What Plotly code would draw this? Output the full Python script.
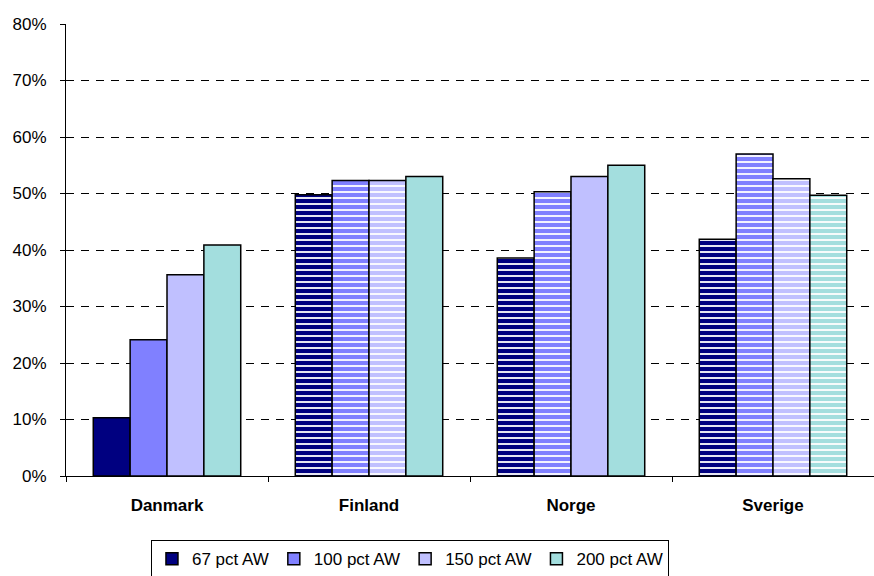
import plotly.graph_objects as go

countries = ["Danmark", "Finland", "Norge", "Sverige"]
series_names = ["67 pct AW", "100 pct AW", "150 pct AW", "200 pct AW"]
v67 = [10.3, 49.8, 38.6, 41.9]
v100 = [24.1, 52.3, 50.3, 57.0]
v150 = [35.6, 52.3, 53.0, 52.6]
v200 = [40.9, 53.0, 55.0, 49.7]
colors = ["#000080", "#8080FF", "#C0C0FF", "#A3DEDE"]
patterns = [["", "-", "-", "-"], ["", "-", "-", "-"], ["", "-", "", "-"], ["", "", "", "-"]]
y_ticks = [0, 10, 20, 30, 40, 50, 60, 70, 80]
y_labels = [f"{t}%" for t in y_ticks]

FONT = "Arial, Liberation Sans, sans-serif"

fig = go.Figure()
for name, vals, col, pat in zip(series_names, [v67, v100, v150, v200], colors, patterns):
    fig.add_trace(go.Bar(
        x=countries, y=vals, name=name,
        marker=dict(color=col, line=dict(color="black", width=1.5),
                    pattern=dict(shape=pat, fgcolor=col, bgcolor="white",
                                 fgopacity=1, size=6, solidity=0.7)),
    ))

fig.update_layout(
    width=874, height=576,
    margin=dict(l=66, r=0, t=24, b=100, autoexpand=False),
    paper_bgcolor="white", plot_bgcolor="white",
    barmode="group", bargap=0.27, bargroupgap=0,
    font=dict(family=FONT, size=17, color="black"),
    legend=dict(orientation="h", x=0.4257, xanchor="center", y=-0.142, yanchor="top",
                bordercolor="black", borderwidth=1, font=dict(size=17, family=FONT),
                itemwidth=30, tracegroupgap=0),
    xaxis=dict(showline=True, linecolor="black", linewidth=1, ticks="outside",
               tickson="boundaries", ticklen=5, tickcolor="black", automargin=False,
               tickfont=dict(size=17, family=FONT, weight="bold"),
               ticklabelstandoff=14, showgrid=False),
    yaxis=dict(range=[0, 80], tickvals=y_ticks, ticktext=y_labels,
               showline=True, linecolor="black", linewidth=1, automargin=False,
               ticks="outside", ticklen=5, tickcolor="black",
               showgrid=True, gridcolor="black", griddash="8px,7px", gridwidth=1,
               zeroline=False, tickfont=dict(size=17, family=FONT),
               ticklabelstandoff=10),
)
fig.write_html(
    "out.html",
    config={"displayModeBar": False},
    post_script="document.body.style.margin='0';document.body.style.overflow='hidden';",
)
